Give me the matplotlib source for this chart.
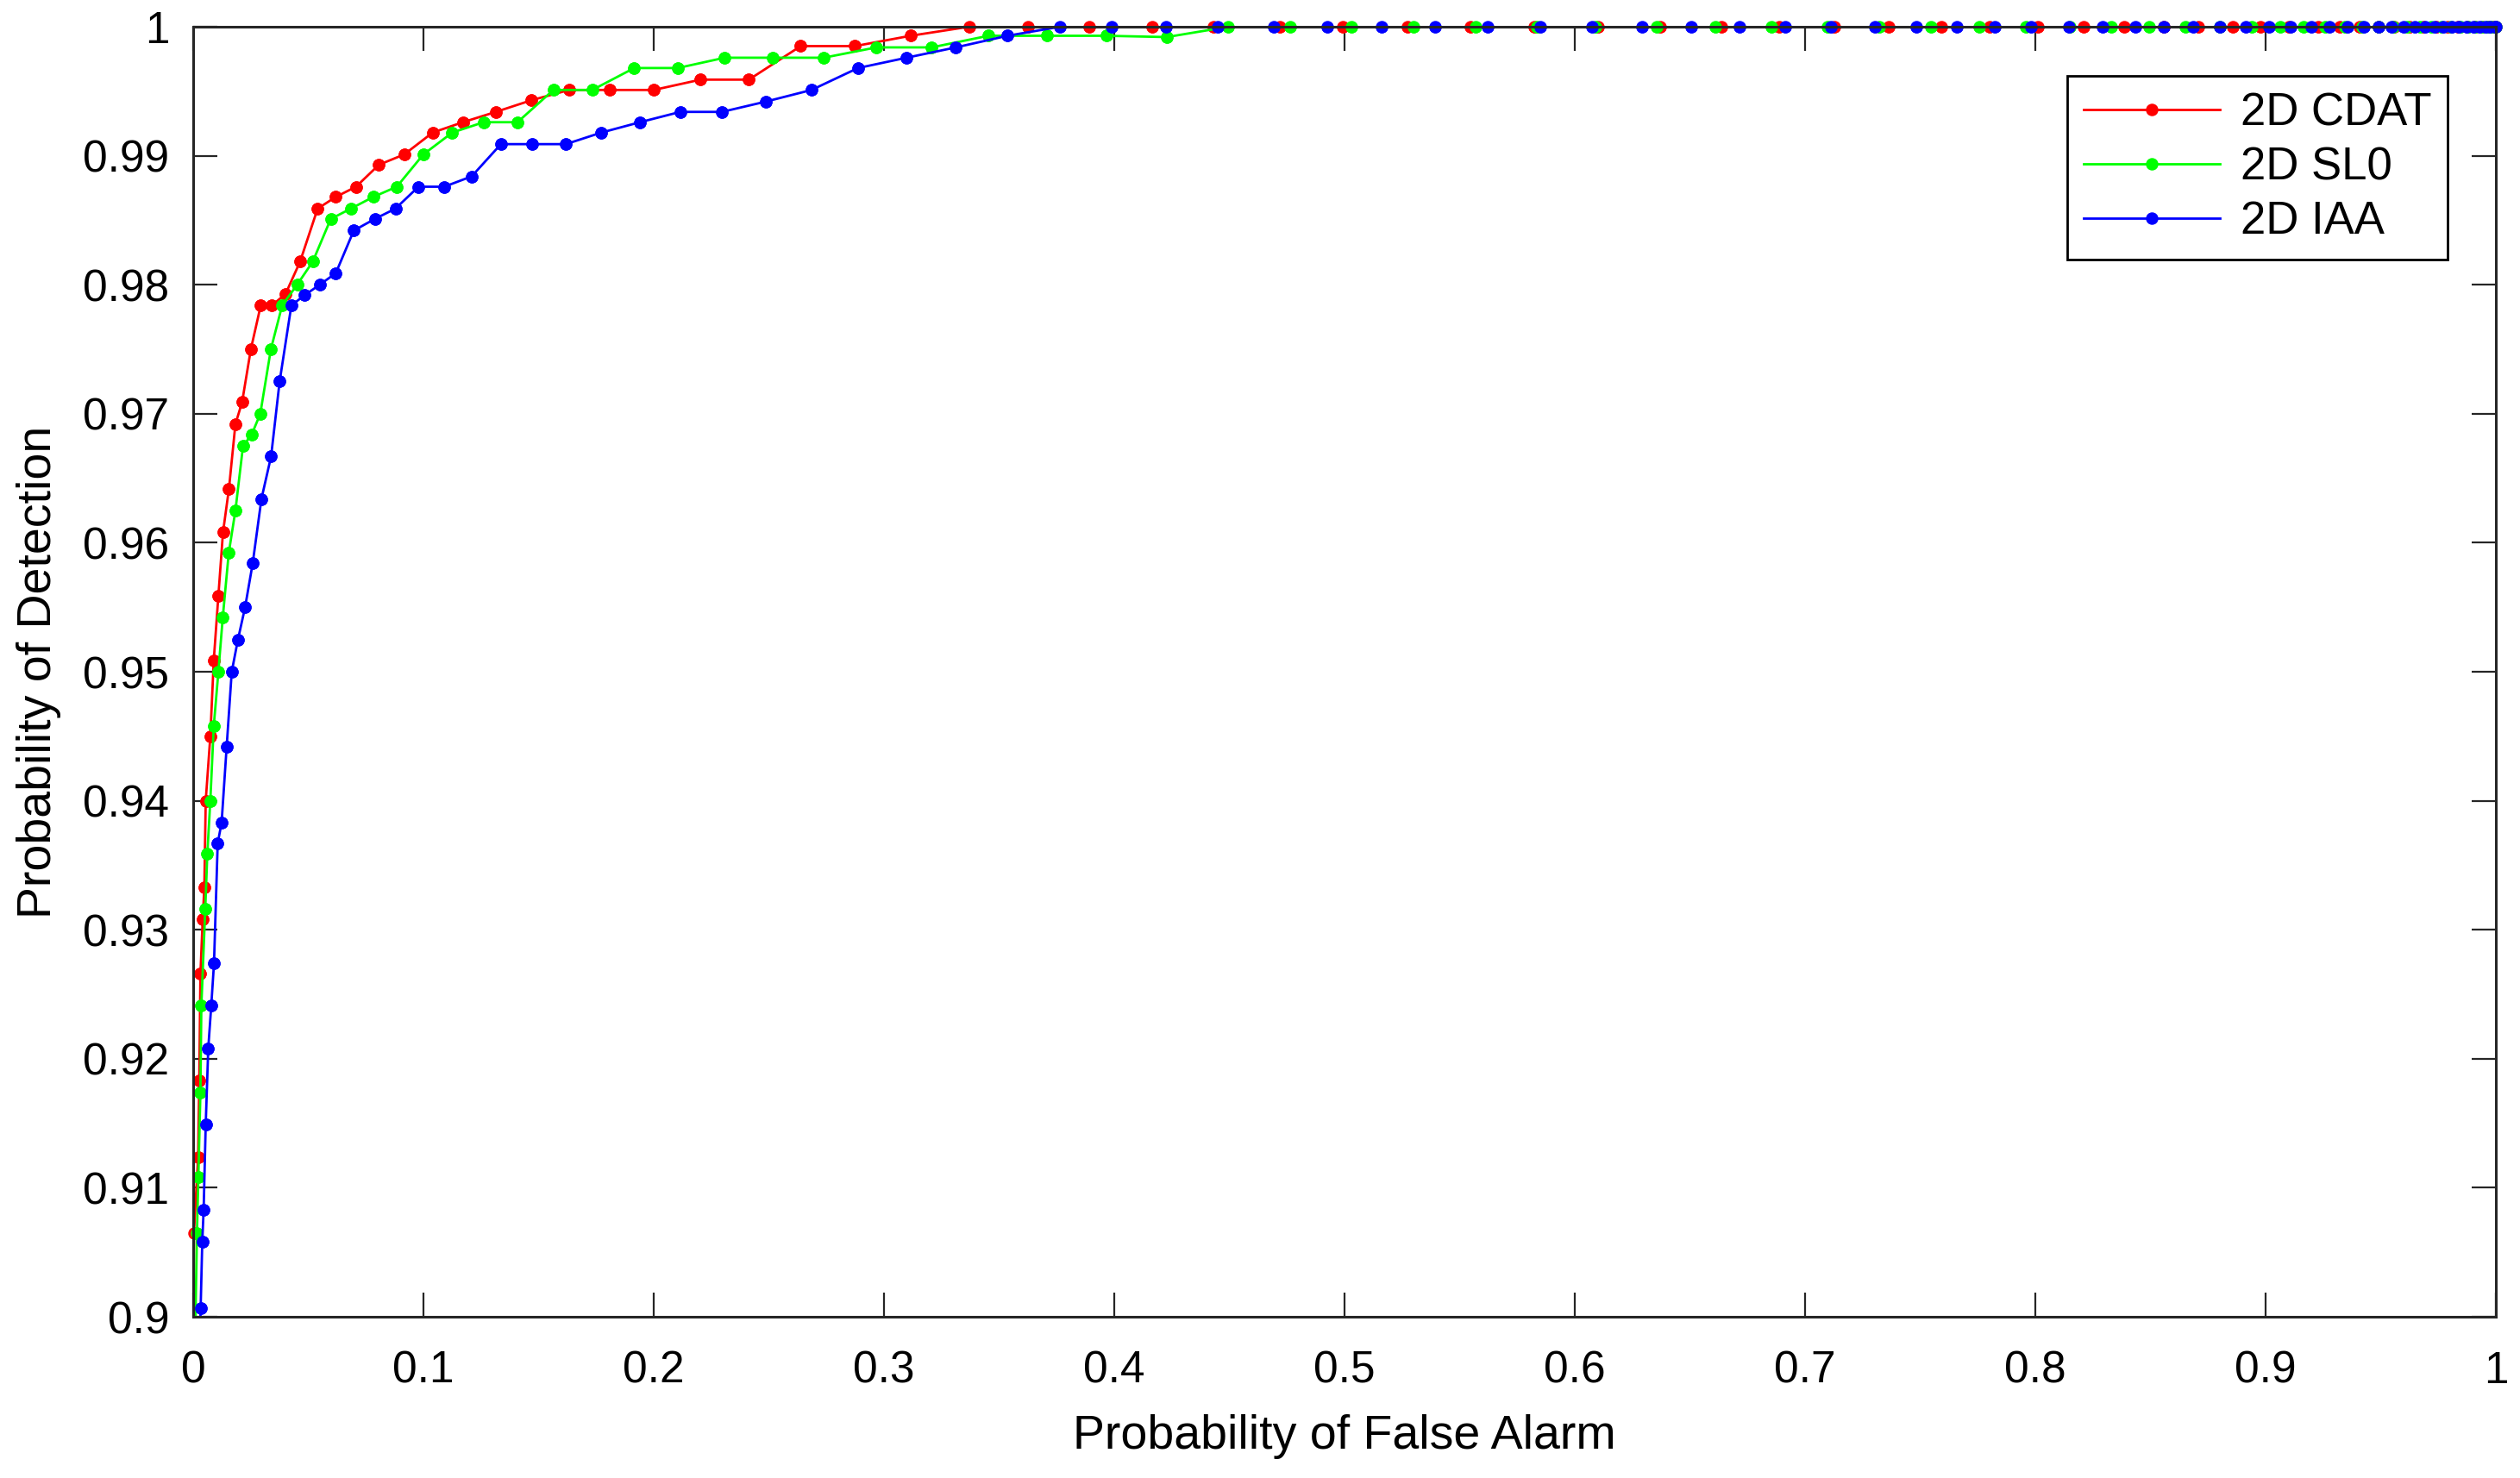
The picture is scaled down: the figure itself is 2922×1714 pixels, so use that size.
import numpy as np
import matplotlib
matplotlib.use("Agg")
import matplotlib.pyplot as plt
from matplotlib.ticker import FuncFormatter

# --------------------------------------------------
# Data
# --------------------------------------------------

cdat_pfa = [
    0.0000, 0.0003, 0.0021, 0.0026, 0.0031, 0.0041, 0.0048, 0.0054, 0.0074,
    0.0089, 0.0109, 0.0129, 0.0155, 0.0183, 0.0212, 0.0250, 0.0293, 0.0342,
    0.0401, 0.0464, 0.0540, 0.0618, 0.0707, 0.0806, 0.0916, 0.1040, 0.1171,
    0.1314, 0.1468, 0.1633, 0.1809, 0.2000, 0.2203, 0.2413, 0.2638, 0.2874,
    0.3115, 0.3369, 0.3625, 0.3890, 0.4164, 0.4431, 0.4719, 0.4993, 0.5274,
    0.5548, 0.5823, 0.6100, 0.6371, 0.6638, 0.6886, 0.7127, 0.7363, 0.7591,
    0.7802, 0.8010, 0.8208, 0.8386, 0.8557, 0.8707, 0.8858, 0.8978, 0.9100,
    0.9229, 0.9323, 0.9408, 0.9490, 0.9560, 0.9625, 0.9685, 0.9740, 0.9790,
    0.9835, 0.9875, 0.9910, 0.9940, 0.9965, 0.9985, 1.0000,
]
cdat_pd = [
    0.8900, 0.9065, 0.9124, 0.9183, 0.9266, 0.9308, 0.9333, 0.9400, 0.9450,
    0.9509, 0.9559, 0.9608, 0.9642, 0.9692, 0.9709, 0.9750, 0.9784, 0.9784,
    0.9793, 0.9818, 0.9859, 0.9868, 0.9876, 0.9893, 0.9901, 0.9918, 0.9926,
    0.9934, 0.9943, 0.9951, 0.9951, 0.9951, 0.9959, 0.9959, 0.9985, 0.9985,
    0.9993, 1.0000, 1.0000, 1.0000, 1.0000, 1.0000, 1.0000, 1.0000, 1.0000,
    1.0000, 1.0000, 1.0000, 1.0000, 1.0000, 1.0000, 1.0000, 1.0000, 1.0000,
    1.0000, 1.0000, 1.0000, 1.0000, 1.0000, 1.0000, 1.0000, 1.0000, 1.0000,
    1.0000, 1.0000, 1.0000, 1.0000, 1.0000, 1.0000, 1.0000, 1.0000, 1.0000,
    1.0000, 1.0000, 1.0000, 1.0000, 1.0000, 1.0000, 1.0000,
]

sl0_pfa = [
    0.0000, 0.0016, 0.0022, 0.0031, 0.0035, 0.0052, 0.0061, 0.0074, 0.0089,
    0.0109, 0.0128, 0.0154, 0.0183, 0.0216, 0.0254, 0.0291, 0.0337, 0.0386,
    0.0451, 0.0519, 0.0597, 0.0684, 0.0781, 0.0884, 0.0999, 0.1125, 0.1261,
    0.1408, 0.1564, 0.1733, 0.1915, 0.2104, 0.2308, 0.2517, 0.2738, 0.2967,
    0.3207, 0.3453, 0.3709, 0.3965, 0.4228, 0.4496, 0.4763, 0.5030, 0.5301,
    0.5571, 0.5836, 0.6090, 0.6357, 0.6609, 0.6855, 0.7097, 0.7323, 0.7545,
    0.7755, 0.7960, 0.8150, 0.8331, 0.8496, 0.8652, 0.8800, 0.8941, 0.9064,
    0.9165, 0.9260, 0.9345, 0.9420, 0.9490, 0.9555, 0.9615, 0.9670, 0.9720,
    0.9765, 0.9806, 0.9845, 0.9880, 0.9912, 0.9940, 0.9963, 0.9983, 1.0000,
]
sl0_pd = [
    0.8900, 0.9065, 0.9108, 0.9174, 0.9241, 0.9316, 0.9359, 0.9400, 0.9458,
    0.9500, 0.9542, 0.9592, 0.9625, 0.9675, 0.9684, 0.9700, 0.9750, 0.9784,
    0.9800, 0.9818, 0.9851, 0.9859, 0.9868, 0.9876, 0.9901, 0.9918, 0.9926,
    0.9926, 0.9951, 0.9951, 0.9968, 0.9968, 0.9976, 0.9976, 0.9976, 0.9984,
    0.9984, 0.9993, 0.9993, 0.9993, 0.9992, 1.0000, 1.0000, 1.0000, 1.0000,
    1.0000, 1.0000, 1.0000, 1.0000, 1.0000, 1.0000, 1.0000, 1.0000, 1.0000,
    1.0000, 1.0000, 1.0000, 1.0000, 1.0000, 1.0000, 1.0000, 1.0000, 1.0000,
    1.0000, 1.0000, 1.0000, 1.0000, 1.0000, 1.0000, 1.0000, 1.0000, 1.0000,
    1.0000, 1.0000, 1.0000, 1.0000, 1.0000, 1.0000, 1.0000, 1.0000, 1.0000,
]

iaa_pfa = [
    0.0020, 0.0032, 0.0039, 0.0045, 0.0054, 0.0065, 0.0078, 0.0090, 0.0106,
    0.0123, 0.0145, 0.0167, 0.0194, 0.0225, 0.0258, 0.0296, 0.0338, 0.0375,
    0.0426, 0.0484, 0.0549, 0.0619, 0.0697, 0.0788, 0.0878, 0.0978, 0.1090,
    0.1209, 0.1336, 0.1473, 0.1618, 0.1773, 0.1940, 0.2115, 0.2296, 0.2487,
    0.2685, 0.2887, 0.3098, 0.3312, 0.3536, 0.3764, 0.3990, 0.4224, 0.4451,
    0.4692, 0.4924, 0.5160, 0.5392, 0.5622, 0.5849, 0.6076, 0.6293, 0.6507,
    0.6715, 0.6915, 0.7113, 0.7303, 0.7485, 0.7659, 0.7825, 0.7983, 0.8147,
    0.8293, 0.8434, 0.8560, 0.8687, 0.8803, 0.8915, 0.9015, 0.9108, 0.9199,
    0.9279, 0.9357, 0.9428, 0.9491, 0.9548, 0.9601, 0.9648, 0.9692, 0.9733,
    0.9773, 0.9808, 0.9841, 0.9873, 0.9901, 0.9929, 0.9954, 0.9975, 0.9995,
    1.0000,
]
iaa_pd = [
    0.8900, 0.9007, 0.9058, 0.9083, 0.9149, 0.9208, 0.9241, 0.9274, 0.9367,
    0.9383, 0.9442, 0.9500, 0.9525, 0.9550, 0.9584, 0.9634, 0.9667, 0.9725,
    0.9784, 0.9792, 0.9800, 0.9809, 0.9842, 0.9851, 0.9859, 0.9876, 0.9876,
    0.9884, 0.9909, 0.9909, 0.9909, 0.9918, 0.9926, 0.9934, 0.9934, 0.9942,
    0.9951, 0.9968, 0.9976, 0.9984, 0.9993, 1.0000, 1.0000, 1.0000, 1.0000,
    1.0000, 1.0000, 1.0000, 1.0000, 1.0000, 1.0000, 1.0000, 1.0000, 1.0000,
    1.0000, 1.0000, 1.0000, 1.0000, 1.0000, 1.0000, 1.0000, 1.0000, 1.0000,
    1.0000, 1.0000, 1.0000, 1.0000, 1.0000, 1.0000, 1.0000, 1.0000, 1.0000,
    1.0000, 1.0000, 1.0000, 1.0000, 1.0000, 1.0000, 1.0000, 1.0000, 1.0000,
    1.0000, 1.0000, 1.0000, 1.0000, 1.0000, 1.0000, 1.0000, 1.0000, 1.0000,
    1.0000,
]

SERIES = [
    ("2D CDAT", cdat_pfa, cdat_pd, "#ff0000"),
    ("2D SL0", sl0_pfa, sl0_pd, "#00ff00"),
    ("2D IAA", iaa_pfa, iaa_pd, "#0000ff"),
]

X_TICKS = np.arange(0, 1.01, 0.1)
Y_TICKS = np.arange(0.90, 1.001, 0.01)

# --------------------------------------------------
# Figure
# --------------------------------------------------

plt.rcParams["font.family"] = ["Liberation Sans", "DejaVu Sans"]

fig = plt.figure(figsize=(14.61, 8.57), dpi=200)
ax = fig.add_axes([0.0767, 0.1091, 0.9137, 0.8728])

for label, pfa, pd_, color in SERIES:

    pfa = np.array(pfa)
    pd_ = np.array(pd_)

    # line (clipped at the axes like the original)
    ax.plot(
        pfa,
        pd_,
        color=color,
        linewidth=1.0,
        marker="o",
        markersize=5.2,
        markeredgewidth=0,
        label=label
    )

    # markers on the box edge are not clipped in the original
    inside = pd_ >= 0.9
    ax.plot(
        pfa[inside],
        pd_[inside],
        linestyle="none",
        color=color,
        marker="o",
        markersize=5.2,
        markeredgewidth=0,
        clip_on=False
    )

ax.set_xlim(0, 1)
ax.set_ylim(0.9, 1)

ax.set_xticks(X_TICKS)
ax.set_yticks(Y_TICKS)

fmt = FuncFormatter(lambda v, pos: f"{v:.2f}".rstrip("0").rstrip("."))
ax.xaxis.set_major_formatter(fmt)
ax.yaxis.set_major_formatter(fmt)

ax.tick_params(
    direction="in",
    length=10,
    width=0.8,
    top=True,
    right=True,
    labelsize=18.5,
    pad=10,
    color="#262626"
)
ax.tick_params(axis="x", pad=14)

for spine in ax.spines.values():
    spine.set_linewidth(1.1)
    spine.set_color("#262626")

ax.set_xlabel("Probability of False Alarm", fontsize=20, labelpad=9)
ax.set_ylabel("Probability of Detection", fontsize=20, labelpad=9)

leg = ax.legend(
    loc="upper right",
    bbox_to_anchor=(0.9713, 0.9489),
    bbox_transform=fig.transFigure,
    borderaxespad=0,
    fontsize=19,
    handlelength=3.0,
    handletextpad=0.45,
    borderpad=0.35,
    labelspacing=0.25,
    fancybox=False,
    framealpha=1,
    edgecolor="black"
)
leg.get_frame().set_linewidth(1.0)

fig.savefig("out.png", dpi=200)
